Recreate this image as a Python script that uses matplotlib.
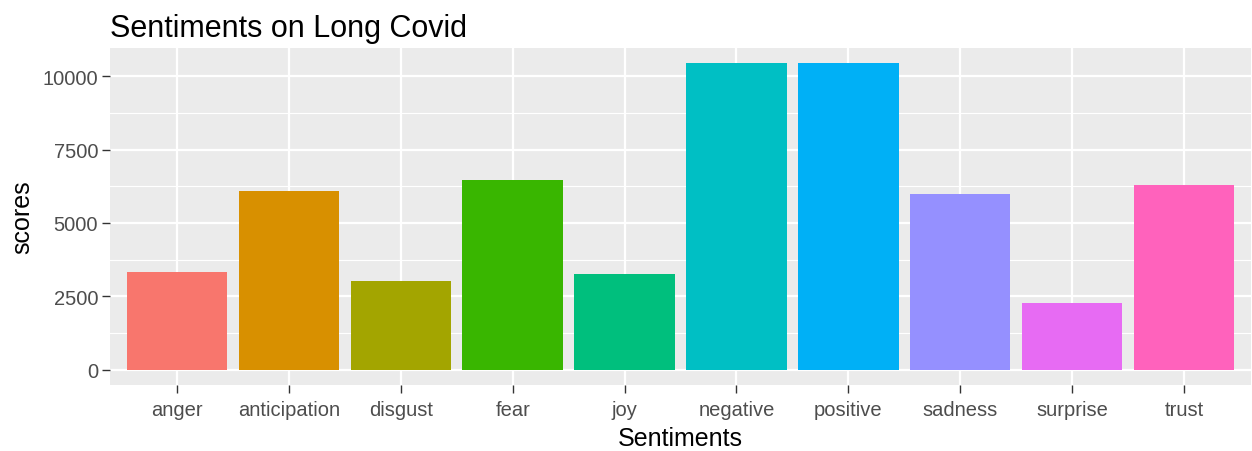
import numpy as np
import matplotlib
matplotlib.use("Agg")
import matplotlib.pyplot as plt
from matplotlib.ticker import MultipleLocator

# Sentiment scores
sentiments = ["anger", "anticipation", "disgust", "fear", "joy",
              "negative", "positive", "sadness", "surprise", "trust"]
scores = [3327, 6105, 3020, 6469, 3269, 10443, 10443, 5993, 2258, 6289]
colors = ["#F8766D", "#D89000", "#A3A500", "#39B600", "#00BF7D",
          "#00BFC4", "#00B0F6", "#9590FF", "#E76BF3", "#FF62BC"]

plt.rcParams['font.family'] = ['Liberation Sans', 'DejaVu Sans']

fig = plt.figure(figsize=(12.52, 4.52), dpi=100)
ax = fig.add_axes([110 / 1252, (452 - 386) / 452, 1141 / 1252, (386 - 49) / 452])

x = np.arange(len(sentiments))
ax.bar(x, scores, width=0.9, color=colors, zorder=3)

# ggplot-like expansion
ax.set_xlim(-0.6, len(sentiments) - 1 + 0.6)
ymax = max(scores)
ax.set_ylim(-0.05 * ymax, 1.05 * ymax)

ax.set_facecolor("#EBEBEB")
ax.yaxis.set_major_locator(MultipleLocator(2500))
ax.yaxis.set_minor_locator(MultipleLocator(1250))
ax.grid(which="major", color="white", linewidth=1.6, zorder=0)
ax.grid(which="minor", axis="y", color="white", linewidth=0.8, zorder=0)
ax.set_axisbelow(True)
for s in ax.spines.values():
    s.set_visible(False)

ax.set_xticks(x)
ax.set_xticklabels(sentiments)
ax.tick_params(axis="both", which="major", labelsize=14.5, labelcolor="#4D4D4D",
               color="#333333", length=5.5, width=1, pad=3)
ax.tick_params(axis="x", which="major", pad=5)
ax.tick_params(axis="y", which="minor", length=0)

ax.set_xlabel("Sentiments", fontsize=18, labelpad=5)
ax.set_ylabel("scores", fontsize=18, labelpad=6)
ax.set_title("Sentiments on Long Covid", fontsize=22, loc="left", pad=9)

fig.savefig("out.png", dpi=100)
